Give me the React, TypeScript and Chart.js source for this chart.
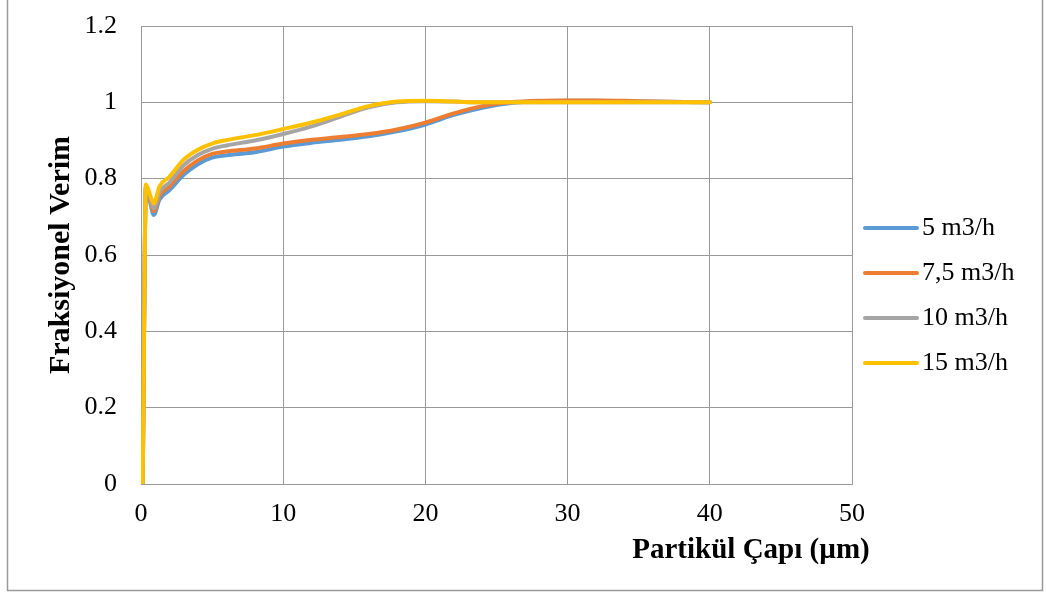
import React, { useEffect, useRef } from "react";
import { Chart, registerables } from "chart.js";

Chart.register(...registerables);

// Particle diameter (µm)
const diameters = [0.12, 0.35, 0.6, 0.9, 1.3, 2, 3, 4, 5, 6, 8, 10, 12, 14, 16, 18, 20, 22, 24, 26, 28, 30, 32, 35, 40];

// Fractional efficiency per flow rate
const eff5 = [0, 0.776, 0.745, 0.705, 0.745, 0.77, 0.81, 0.838, 0.855, 0.861, 0.869, 0.884, 0.894, 0.902, 0.911, 0.924, 0.942, 0.967, 0.986, 0.998, 1.003, 1.004, 1.004, 1.002, 1.0];
const eff75 = [0, 0.78, 0.75, 0.715, 0.755, 0.78, 0.82, 0.848, 0.865, 0.871, 0.879, 0.892, 0.902, 0.909, 0.917, 0.929, 0.947, 0.971, 0.99, 1.0, 1.004, 1.005, 1.005, 1.003, 1.0];
const eff10 = [0, 0.782, 0.755, 0.722, 0.765, 0.79, 0.835, 0.862, 0.878, 0.887, 0.9, 0.917, 0.937, 0.962, 0.987, 1.0, 1.003, 1.002, 1.0, 1.0, 1.0, 1.0, 1.0, 1.0, 1.0];
const eff15 = [0, 0.785, 0.762, 0.735, 0.78, 0.805, 0.85, 0.876, 0.892, 0.901, 0.914, 0.93, 0.947, 0.968, 0.99, 1.002, 1.004, 1.002, 1.0, 1.0, 1.0, 1.0, 1.0, 1.0, 1.0];

const seriesLabels = ["5 m3/h", "7,5 m3/h", "10 m3/h", "15 m3/h"];
const seriesColors = ["#5B9BD5", "#ED7D31", "#A5A5A5", "#FFC000"];
const seriesValues = [eff5, eff75, eff10, eff15];

const xTitle = "Partikül Çapı (µm)";
const yTitle = "Fraksiyonel Verim";

const FONT = "'Liberation Serif', 'Times New Roman', serif";

export default function App() {
  const canvasRef = useRef<HTMLCanvasElement | null>(null);

  useEffect(() => {
    const canvas = canvasRef.current;
    if (!canvas) return;

    const decorPlugin = {
      id: "decor",
      afterDraw(chart: any) {
        const ctx = chart.ctx as CanvasRenderingContext2D;
        ctx.save();
        // outer border
        ctx.strokeStyle = "#9a9a9a";
        ctx.lineWidth = 1.5;
        ctx.beginPath();
        ctx.moveTo(7.5, 0);
        ctx.lineTo(7.5, 590.5);
        ctx.lineTo(1042.5, 590.5);
        ctx.lineTo(1042.5, 0);
        ctx.stroke();

        // legend
        ctx.font = `26px ${FONT}`;
        ctx.textBaseline = "middle";
        ctx.textAlign = "left";
        seriesLabels.forEach((lab, i) => {
          const y = 228 + 45 * i;
          ctx.strokeStyle = seriesColors[i];
          ctx.lineWidth = 4;
          ctx.lineCap = "round";
          ctx.beginPath();
          ctx.moveTo(865, y);
          ctx.lineTo(917, y);
          ctx.stroke();
          ctx.fillStyle = "#000";
          ctx.fillText(lab, 922, y);
        });

        // x axis title
        ctx.font = `bold 29px ${FONT}`;
        ctx.textAlign = "center";
        ctx.fillStyle = "#000";
        ctx.fillText(xTitle, 751, 551);
        ctx.restore();
      },
    };

    const chart = new Chart(canvas, {
      type: "line",
      data: {
        datasets: seriesLabels.map((lab, i) => ({
          label: lab,
          data: diameters.map((d, j) => ({ x: d, y: seriesValues[i][j] })),
          borderColor: seriesColors[i],
          backgroundColor: seriesColors[i],
          borderWidth: 4,
          pointRadius: 0,
          fill: false,
          cubicInterpolationMode: "monotone" as const,
          borderCapStyle: "round" as const,
          borderJoinStyle: "round" as const,
          order: 3 - i,
        })),
      },
      options: {
        responsive: false,
        animation: false,
        devicePixelRatio: 1,
        layout: { padding: { left: 8, right: 194, top: 26, bottom: 63 } },
        plugins: {
          legend: { display: false },
          tooltip: { enabled: false },
        },
        scales: {
          x: {
            type: "linear",
            min: 0,
            max: 50,
            afterFit: (scale: any) => {
              scale.height = 46;
            },
            ticks: {
              stepSize: 10,
              padding: 15,
              color: "#000",
              font: { family: FONT, size: 26 },
              maxRotation: 0,
            },
            grid: { color: "#999", lineWidth: 1, drawTicks: false },
            border: { color: "#999", width: 1 },
          },
          y: {
            type: "linear",
            min: 0,
            max: 1.2,
            afterFit: (scale: any) => {
              scale.width = 133;
              scale.paddingTop = 0;
              scale.paddingBottom = 0;
            },
            ticks: {
              stepSize: 0.2,
              padding: 24,
              color: "#000",
              font: { family: FONT, size: 26 },
              callback: (v: any) => String(Number(Number(v).toFixed(1))),
            },
            grid: { color: "#999", lineWidth: 1, drawTicks: false },
            border: { color: "#999", width: 1 },
            title: {
              display: true,
              text: yTitle,
              color: "#000",
              font: { family: FONT, size: 30, weight: "bold" },
              padding: { top: 35, bottom: 6 },
            },
          },
        },
      },
      plugins: [decorPlugin],
    });

    return () => chart.destroy();
  }, []);

  return (
    <div style={{ position: "fixed", left: 0, top: 0, width: 1046, height: 593, background: "#fff" }}>
      <canvas ref={canvasRef} width={1046} height={593} style={{ display: "block" }} />
    </div>
  );
}
